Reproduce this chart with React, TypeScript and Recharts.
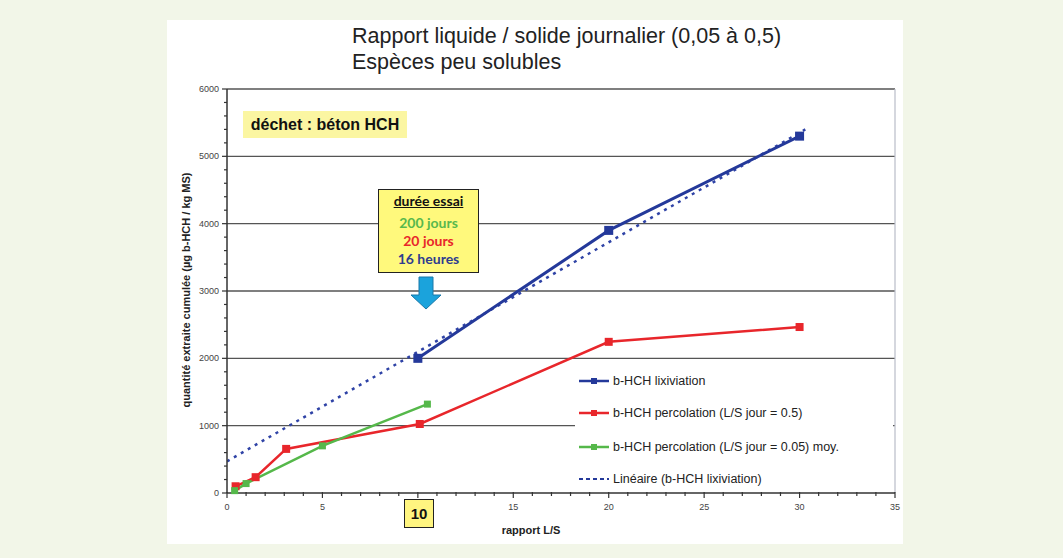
import React from "react";
import { LineChart, Line, XAxis, YAxis, ReferenceLine } from "recharts";

// rapport L/S and cumulated quantities (µg b-HCH / kg MS)
const lsLixiviation = [10, 20, 30];
const valLixiviation = [2000, 3900, 5300];
const lsPercolation05 = [0.45, 1.5, 3.1, 10.1, 20, 30];
const valPercolation05 = [100, 235, 655, 1025, 2245, 2465];
const lsPercolation005 = [0.4, 1, 5, 10.5];
const valPercolation005 = [35, 140, 700, 1320];
const lsLineaire = [0, 30.3];
const valLineaire = [470, 5400];

const yMajorTicks = [0, 1000, 2000, 3000, 4000, 5000, 6000];
const xMajorTicks = [0, 5, 10, 15, 20, 25, 30, 35];
// the 10 label is drawn in the yellow box below the axis
const xHighlighted = 10;
const yTicks = Array.from({ length: 31 }, (_, i) => i * 200);
const xTicks = Array.from({ length: 36 }, (_, i) => i);

const BLUE = "#24399a";
const RED = "#e8262b";
const GREEN = "#55b84a";
const FONT = "'Liberation Sans', Arial, sans-serif";

const toPoints = (xs: number[], ys: number[]) => xs.map((x, i) => ({ x, y: ys[i] }));

const lixiviation = toPoints(lsLixiviation, valLixiviation);
const percolation05 = toPoints(lsPercolation05, valPercolation05);
const percolation005 = toPoints(lsPercolation005, valPercolation005);
const lineaire = toPoints(lsLineaire, valLineaire);

const squareDot = (color: string, size: number) => (p: any) => (
  <rect key={p.index} x={p.cx - size / 2} y={p.cy - size / 2} width={size} height={size} fill={color} />
);

const YTick = (props: any) => {
  const { x, y, payload } = props;
  const major = yMajorTicks.includes(payload.value);
  return (
    <g>
      <line x1={x} x2={x - (major ? 5 : 3)} y1={y} y2={y} stroke="#333" strokeWidth={1.2} />
      {major && (
        <text x={x - 8} y={y} dy={3} textAnchor="end" fontSize={9} fill="#444" fontFamily={FONT}>
          {payload.value}
        </text>
      )}
    </g>
  );
};

const XTick = (props: any) => {
  const { x, y, payload } = props;
  const major = xMajorTicks.includes(payload.value);
  return (
    <g>
      <line x1={x} x2={x} y1={y - 1} y2={y + (major ? 5 : 3)} stroke="#333" strokeWidth={1.2} />
      {major && payload.value !== xHighlighted && (
        <text x={x} y={y + 17} textAnchor="middle" fontSize={9} fill="#444" fontFamily={FONT}>
          {payload.value}
        </text>
      )}
    </g>
  );
};

const legendItems = [
  { label: "b-HCH lixiviation", color: BLUE, dashed: false },
  { label: "b-HCH percolation (L/S jour = 0.5)", color: RED, dashed: false },
  { label: "b-HCH percolation (L/S jour = 0.05) moy.", color: GREEN, dashed: false },
  { label: "Linéaire (b-HCH lixiviation)", color: BLUE, dashed: true },
];

const ChartLegend = () => (
  <div style={{ position: "absolute", left: 575, top: 365, width: 318, height: 125, background: "#fff", fontFamily: FONT, fontSize: 12.5, color: "#222" }}>
    {legendItems.map((it, i) => (
      <div key={i} style={{ display: "flex", alignItems: "center", height: 32, marginTop: i === 2 ? 2 : 0 }}>
        <svg width={36} height={10} style={{ marginLeft: 2 }}>
          {it.dashed ? (
            <line x1={2} x2={32} y1={5} y2={5} stroke={it.color} strokeWidth={2} strokeDasharray="4 3" />
          ) : (
            <>
              <line x1={2} x2={32} y1={5} y2={5} stroke={it.color} strokeWidth={2.5} />
              <rect x={14} y={2} width={6} height={6} fill={it.color} />
            </>
          )}
        </svg>
        <span>{it.label}</span>
      </div>
    ))}
  </div>
);

export default function App() {
  return (
    <div style={{ position: "absolute", left: 0, top: 0, width: 1063, height: 558, background: "#f2f6e8", overflow: "hidden" }}>
      <div style={{ position: "absolute", left: 167, top: 20, width: 736, height: 524, background: "#fff" }} />
      <div style={{ position: "absolute", left: 352, top: 23, fontFamily: FONT, fontSize: 21.5, color: "#222", lineHeight: "26px" }}>
        <div>Rapport liquide / solide journalier (0,05 à 0,5)</div>
        <div>Espèces peu solubles</div>
      </div>
      <div style={{ position: "absolute", left: 0, top: 0 }}>
        <LineChart width={1063} height={558} margin={{ top: 89, right: 168, bottom: 35, left: 187 }}>
          <XAxis
            type="number"
            dataKey="x"
            domain={[0, 35]}
            ticks={xTicks}
            interval={0}
            allowDataOverflow
            tick={<XTick />}
            tickLine={false}
            tickSize={0}
            tickMargin={0}
            height={30}
            axisLine={{ stroke: "#333", strokeWidth: 1.5 }}
          />
          <YAxis
            type="number"
            domain={[0, 6000]}
            ticks={yTicks}
            interval={0}
            tick={<YTick />}
            tickLine={false}
            tickSize={0}
            tickMargin={0}
            width={40}
            axisLine={{ stroke: "#333", strokeWidth: 1.5 }}
          />
          {yMajorTicks.filter((v) => v > 0).map((v) => (
            <ReferenceLine key={v} y={v} stroke="#555" strokeWidth={1.4} />
          ))}
          <ReferenceLine x={35} stroke="#b9bdc8" strokeWidth={1.2} />
          <Line
            data={lineaire}
            dataKey="y"
            stroke="#2f43a6"
            strokeWidth={2.5}
            strokeDasharray="3 5"
            dot={false}
            isAnimationActive={false}
          />
          <Line data={lixiviation} dataKey="y" stroke={BLUE} strokeWidth={3} dot={squareDot(BLUE, 9)} isAnimationActive={false} />
          <Line data={percolation05} dataKey="y" stroke={RED} strokeWidth={2.5} dot={squareDot(RED, 8)} isAnimationActive={false} />
          <Line data={percolation005} dataKey="y" stroke={GREEN} strokeWidth={2.5} dot={squareDot(GREEN, 7)} isAnimationActive={false} />
        </LineChart>
      </div>
      <ChartLegend />
      {/* annotations */}
      <div style={{ position: "absolute", left: 243, top: 111, width: 164, height: 27, background: "#fbf6a2", fontFamily: FONT, fontWeight: "bold", fontSize: 16, color: "#111", display: "flex", alignItems: "center", justifyContent: "center" }}>
        déchet : béton HCH
      </div>
      <div style={{ position: "absolute", left: 378, top: 189, width: 99, height: 82, background: "#fff97c", border: "1px solid #222", fontFamily: "Lato, 'Open Sans', sans-serif", fontWeight: "bold", fontSize: 14, textAlign: "center", lineHeight: "18px" }}>
        <div style={{ color: "#111", textDecoration: "underline", marginTop: 2, marginBottom: 4 }}>durée essai</div>
        <div style={{ color: "#58b84c" }}>200 jours</div>
        <div style={{ color: "#e8262b" }}>20 jours</div>
        <div style={{ color: "#2f3c8f" }}>16 heures</div>
      </div>
      <svg style={{ position: "absolute", left: 408, top: 275 }} width={36} height={38}>
        <polygon points="11,2 25,2 25,20 33,20 18,34 3,20 11,20" fill="#1ba3dc" stroke="#1a78a8" strokeWidth={1} />
      </svg>
      <div style={{ position: "absolute", left: 404, top: 499, width: 28, height: 27, background: "#fff580", border: "1px solid #222", fontFamily: FONT, fontWeight: "bold", fontSize: 15, color: "#111", display: "flex", alignItems: "center", justifyContent: "center" }}>
        {xHighlighted}
      </div>
      <div style={{ position: "absolute", left: 531, top: 524, transform: "translateX(-50%)", fontFamily: FONT, fontWeight: "bold", fontSize: 11, color: "#222", whiteSpace: "nowrap" }}>
        rapport L/S
      </div>
      <div style={{ position: "absolute", left: 186, top: 290, transform: "translate(-50%, -50%) rotate(-90deg)", fontFamily: FONT, fontWeight: "bold", fontSize: 11, color: "#222", whiteSpace: "nowrap" }}>
        quantité extraite cumulée (µg b-HCH / kg MS)
      </div>
    </div>
  );
}
